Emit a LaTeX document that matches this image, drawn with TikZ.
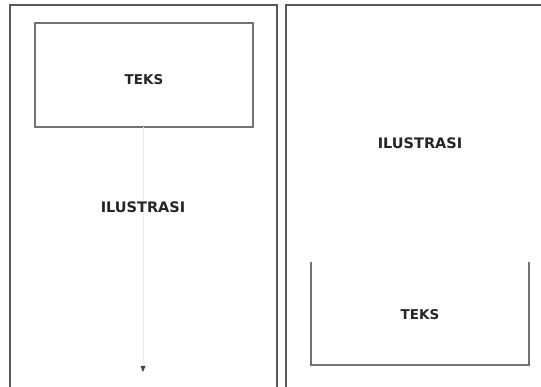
\documentclass[tikz,border=0pt]{standalone}
\usepackage{fontspec}
\setmainfont{DejaVu Sans}
\usetikzlibrary{arrows.meta}
\begin{document}
\begin{tikzpicture}[x=1pt,y=-1pt,
  panel/.style={draw=black!65,line width=1.3pt},
  frame/.style={draw=black!55,line width=1.2pt},
  lbl/.style={font=\bfseries\fontsize{13.5}{15}\selectfont,text=black!85,inner sep=1pt},
  wide/.style={font=\bfseries\fontsize{14.5}{16}\selectfont},
  faint/.style={draw=black!8,line width=0.8pt}]
\useasboundingbox[fill=white] (0,0) rectangle (541,387);
% panels
\draw[panel] (10,390) -- (10,5) -- (277,5) -- (277,390);
\draw[panel] (286,390) -- (286,5) -- (545,5);
% left panel
\draw[frame] (35,23) rectangle (253,127);
\node[lbl] (teksA) at (144,80) {TEKS};
\coordinate (boxbot) at (143,127);
\coordinate (tip) at (143,372);
\draw[faint] (boxbot) -- (143,366);
\fill[black!75] (140.5,366) -- (145.5,366) -- (tip) -- cycle;
\node[lbl,wide,fill=white] (ilusA) at (143,207) {ILUSTRASI};
% right panel
\node[lbl,wide] (ilusB) at (420,143) {ILUSTRASI};
\draw[frame] (311,262) -- (311,365) -- (529,365) -- (529,262);
\node[lbl] (teksB) at (420,315) {TEKS};
\end{tikzpicture}
\end{document}
